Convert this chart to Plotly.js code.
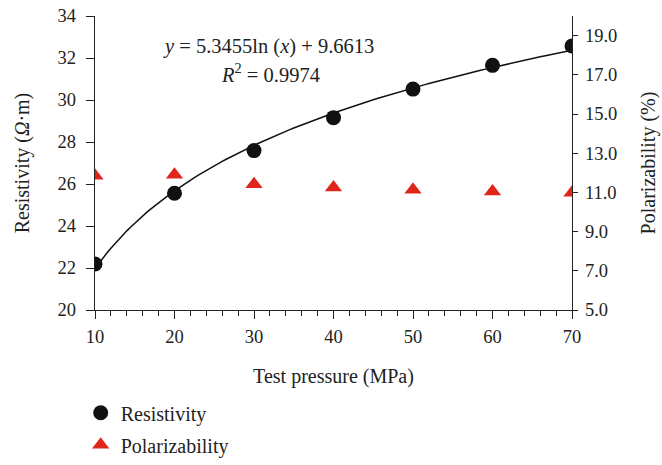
<!DOCTYPE html>
<html><head><meta charset="utf-8">
<script src="https://cdn.plot.ly/plotly-3.0.1.min.js"></script>
<style>body{margin:0;padding:0;background:#fff}#chart{width:662px;height:465px}</style>
</head><body><div id="chart"></div>
<script>
const pressure = [10, 20, 30, 40, 50, 60, 70];
const resistivity = [22.19, 25.56, 27.59, 29.16, 30.52, 31.65, 32.57];
const polarizability = [11.85, 11.9, 11.42, 11.25, 11.13, 11.05, 10.98];
const fitA = 5.3455, fitB = 9.6613;
const leftTicks = [20, 22, 24, 26, 28, 30, 32, 34];
const rightTicks = [5, 7, 9, 11, 13, 15, 17, 19];
const xTicks = [10, 20, 30, 40, 50, 60, 70];

const fitX = [], fitY = [];
for (let i = 0; i <= 120; i++) { const x = 10 + i * 0.5; fitX.push(x); fitY.push(fitA * Math.log(x) + fitB); }

const font = 'Liberation Serif, Times New Roman, serif';
const traces = [
  {x: fitX, y: fitY, mode: 'lines', line: {color: '#111', width: 1.5}, showlegend: false, hoverinfo: 'skip'},
  {x: pressure, y: resistivity, mode: 'markers', name: 'Resistivity', legendgroup: 'a',
   marker: {symbol: 'circle', size: 15, color: '#111'}},
  {x: pressure, y: polarizability, mode: 'markers', name: 'Polarizability', yaxis: 'y2', legendgroup: 'b',
   marker: {symbol: 'triangle-up', size: 15, color: '#e0261a'}}
];
const tf = {family: font, size: 18.5, color: '#222'};
const ttl = {family: font, size: 20, color: '#222'};
const axCommon = {showgrid: false, zeroline: false, showline: true, linecolor: '#222', linewidth: 1.2,
  ticks: 'outside', tickcolor: '#222', ticklen: 8, tickfont: tf, automargin: false};
const layout = {
  width: 662, height: 465, margin: {l: 95, r: 90, t: 16, b: 155, autoexpand: false},
  paper_bgcolor: '#fff', plot_bgcolor: '#fff', font: {family: font, color: '#222'},
  xaxis: Object.assign({}, axCommon, {range: [10, 70], tickvals: xTicks, ticktext: xTicks.map(String),
    ticklabelstandoff: 2,
    minor: {dtick: 2, ticks: 'outside', ticklen: 5, tickcolor: '#222'},
    title: {text: 'Test pressure (MPa)', font: ttl, standoff: 22}}),
  yaxis: Object.assign({}, axCommon, {range: [20, 34], tickvals: leftTicks, ticktext: leftTicks.map(String),
    ticklabelstandoff: 6,
    title: {text: 'Resistivity (<i>Ω</i>·m)', font: ttl, standoff: 22}}),
  yaxis2: Object.assign({}, axCommon, {overlaying: 'y', side: 'right', range: [5, 20], tickvals: rightTicks,
    ticklen: 5, ticklabelstandoff: 3,
    ticktext: rightTicks.map(v => v.toFixed(1)),
    title: {text: 'Polarizability (%)', font: ttl, standoff: 24}}),
  legend: {x: -0.03, y: -0.283, xanchor: 'left', yanchor: 'top', traceorder: 'grouped', tracegroupgap: 3,
    font: {family: font, size: 20, color: '#222'}, bgcolor: 'rgba(0,0,0,0)'},
  annotations: [
    {xref: 'paper', yref: 'paper', x: 0.363, y: 0.895, showarrow: false, xanchor: 'center', yanchor: 'middle',
     text: '<i>y</i> = 5.3455ln (<i>x</i>) + 9.6613', font: {family: font, size: 20.5, color: '#222'}},
    {xref: 'paper', yref: 'paper', x: 0.367, y: 0.806, showarrow: false, xanchor: 'center', yanchor: 'middle',
     text: '<i>R</i><sup>2</sup> = 0.9974', font: {family: font, size: 20.5, color: '#222'}}
  ]
};
Plotly.newPlot('chart', traces, layout, {displayModeBar: false, staticPlot: true});
</script></body></html>
